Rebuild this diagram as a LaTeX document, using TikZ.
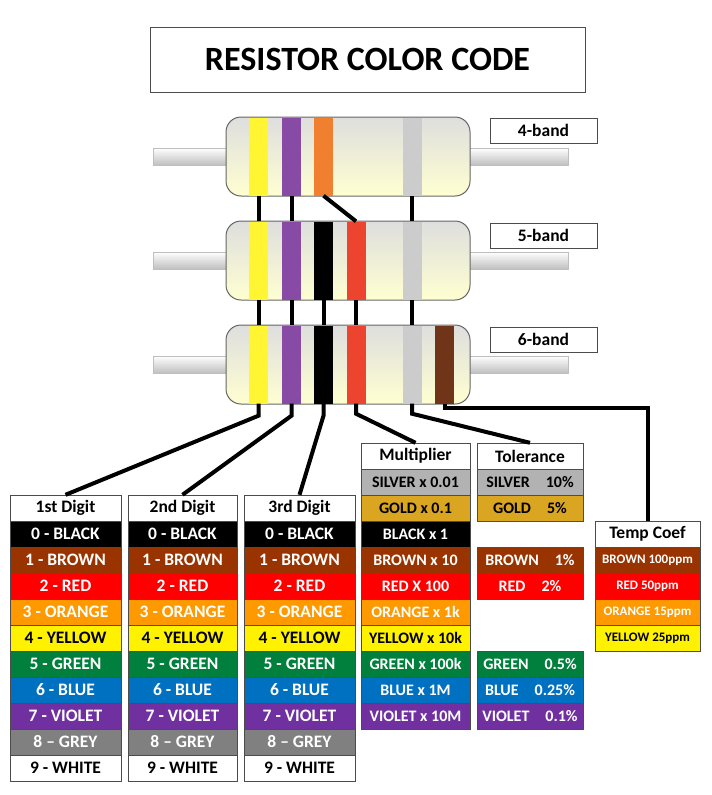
\documentclass[tikz,border=0pt]{standalone}
\usepackage{fontspec}
\setmainfont{Carlito}
\usetikzlibrary{positioning}
\definecolor{cBrown}{RGB}{153,51,0}
\definecolor{cOrange}{RGB}{255,153,0}
\definecolor{cGreen}{RGB}{0,128,60}
\definecolor{cBlue}{RGB}{0,112,192}
\definecolor{cViolet}{RGB}{112,48,160}
\definecolor{cGold}{RGB}{218,165,32}
\definecolor{bYellow}{RGB}{255,245,50}
\definecolor{bViolet}{RGB}{136,75,165}
\definecolor{bOrange}{RGB}{240,128,48}
\definecolor{bRed}{RGB}{236,68,46}
\definecolor{bBrown}{RGB}{112,52,24}
\tikzset{
  cell/.style={draw=black!70, minimum height=26pt, inner sep=0pt, font=\bfseries\fontsize{17.5}{17.5}\selectfont},
  small/.style={font=\bfseries\fontsize{16}{16}\selectfont},
  head/.style={cell, fill=white, text=black},
  tag/.style={draw=black!70, fill=white, minimum width=107pt, minimum height=25pt, font=\bfseries\fontsize{17.5}{17.5}\selectfont},
  band/.style={minimum width=19pt, minimum height=78pt, inner sep=0pt},
  wire/.style={line width=4pt, black},
  body/.style={draw=black!60, line width=1pt, rounded corners=15pt, top color=black!13, bottom color=yellow!18},
  lead/.style={draw=black!25, top color=white, bottom color=black!25}
}
\begin{document}
\begin{tikzpicture}[x=1pt, y=-1pt]
\useasboundingbox (0,0) rectangle (712,795);
% title
\node[draw=black!70, minimum width=435pt, minimum height=65pt, font=\bfseries\fontsize{34}{34}\selectfont] (title) at (367.5,59.5) {RESISTOR COLOR CODE};
% resistors
\foreach \r/\yt in {1/117,2/221,3/325}{
  \path[lead] (153,\yt+31) rectangle (228,\yt+48);
  \path[lead] (468,\yt+31) rectangle (568,\yt+48);
  \path[body] (226,\yt) rectangle (470,\yt+79);
  \node[band, fill=bYellow] (r\r a) at (258.5,\yt+39.5) {};
  \node[band, fill=bViolet] (r\r b) at (291.5,\yt+39.5) {};
  \node[band, fill=black!20] (r\r s) at (412,\yt+39.5) {};
}
\node[band, fill=bOrange] (r1c) at (323.5,156.5) {};
\node[band, fill=black] (r2c) at (323.5,260.5) {};
\node[band, fill=bRed] (r2d) at (356,260.5) {};
\node[band, fill=black] (r3c) at (323.5,364.5) {};
\node[band, fill=bRed] (r3d) at (356,364.5) {};
\node[band, fill=bBrown] (r3e) at (444.5,364.5) {};
\node[tag] (t4) at (543.5,130.5) {4-band};
\node[tag] (t5) at (543.5,235.5) {5-band};
\node[tag] (t6) at (543.5,339.5) {6-band};
% tables
\node[head, minimum width=111pt] (d1) at (65.5,508) {1st Digit};
\node[head, minimum width=109pt] (d2) at (182.5,508) {2nd Digit};
\node[head, minimum width=111pt] (d3) at (299.5,508) {3rd Digit};
\node[head, minimum width=109pt] (mul) at (415.5,456) {Multiplier};
\node[head, minimum width=106pt] (tol) at (530,456) {Tolerance};
\node[head, minimum width=105pt] (tc) at (647.5,534) {Temp Coef};
\foreach \f/\t/\n [count=\i from 0] in {black/white/0 - BLACK, cBrown/white/1 - BROWN, red/white/2 - RED, cOrange/white/3 - ORANGE, yellow/black/4 - YELLOW, cGreen/white/5 - GREEN, cBlue/white/6 - BLUE, cViolet/white/7 - VIOLET, gray/white/8 -- GREY, white/black/9 - WHITE}{
  \node[cell, fill=\f, text=\t, minimum width=111pt] (d1r\i) at (65.5,534+26*\i) {\n};
  \node[cell, fill=\f, text=\t, minimum width=109pt] (d2r\i) at (182.5,534+26*\i) {\n};
  \node[cell, fill=\f, text=\t, minimum width=111pt] (d3r\i) at (299.5,534+26*\i) {\n};
}
\foreach \f/\t/\n [count=\i from 0] in {black!30/black/SILVER x 0.01, cGold/black/GOLD x 0.1, black/white/BLACK x 1, cBrown/white/BROWN x 10, red/white/RED X 100, cOrange/white/ORANGE x 1k, yellow/black/YELLOW x 10k, cGreen/white/GREEN x 100k, cBlue/white/BLUE x 1M, cViolet/white/VIOLET x 10M}{
  \node[cell, small, fill=\f, text=\t, minimum width=109pt] (mr\i) at (415.5,482+26*\i) {\n};
}
\foreach \f/\t/\n/\i in {black!30/black/SILVER\quad10\%/0, cGold/black/GOLD\quad5\%/1, cBrown/white/BROWN\quad1\%/3, red/white/RED\quad2\%/4, cGreen/white/GREEN\quad0.5\%/7, cBlue/white/BLUE\quad0.25\%/8, cViolet/white/VIOLET\quad0.1\%/9}{
  \node[cell, small, fill=\f, text=\t, minimum width=106pt] (tr\i) at (530,482+26*\i) {\n};
}
\foreach \f/\t/\n [count=\i from 0] in {cBrown/white/BROWN 100ppm, red/white/RED 50ppm, cOrange/white/ORANGE 15ppm, yellow/black/YELLOW 25ppm}{
  \node[cell, fill=\f, text=\t, minimum width=105pt, font=\bfseries\fontsize{13}{13}\selectfont] (tcr\i) at (647.5,560+26*\i) {\n};
}
% connectors
\draw[wire] (r1a.south) -- (r2a.north);
\draw[wire] (r1b.south) -- (r2b.north);
\draw[wire] (r1c.south) -- (r2d.north);
\draw[wire] (r1s.south) -- (r2s.north);
\draw[wire] (r2a.south) -- (r3a.north);
\draw[wire] (r2b.south) -- (r3b.north);
\draw[wire] (r2c.south) -- (r3c.north);
\draw[wire] (r2d.south) -- (r3d.north);
\draw[wire] (r2s.south) -- (r3s.north);
\draw[wire] (r3a.south) -- ++(0,12) -- (d1.north);
\draw[wire] (r3b.south) -- ++(0,12) -- (d2.north);
\draw[wire] (r3c.south) -- ++(0,12) -- (d3.north);
\draw[wire] (r3d.south) -- ++(0,10) -- (mul.north);
\draw[wire] (r3s.south) -- ++(0,10) -- (tol.north);
\draw[wire] (r3e.south) -- ++(0,4) -| (tc.north);
\end{tikzpicture}
\end{document}
